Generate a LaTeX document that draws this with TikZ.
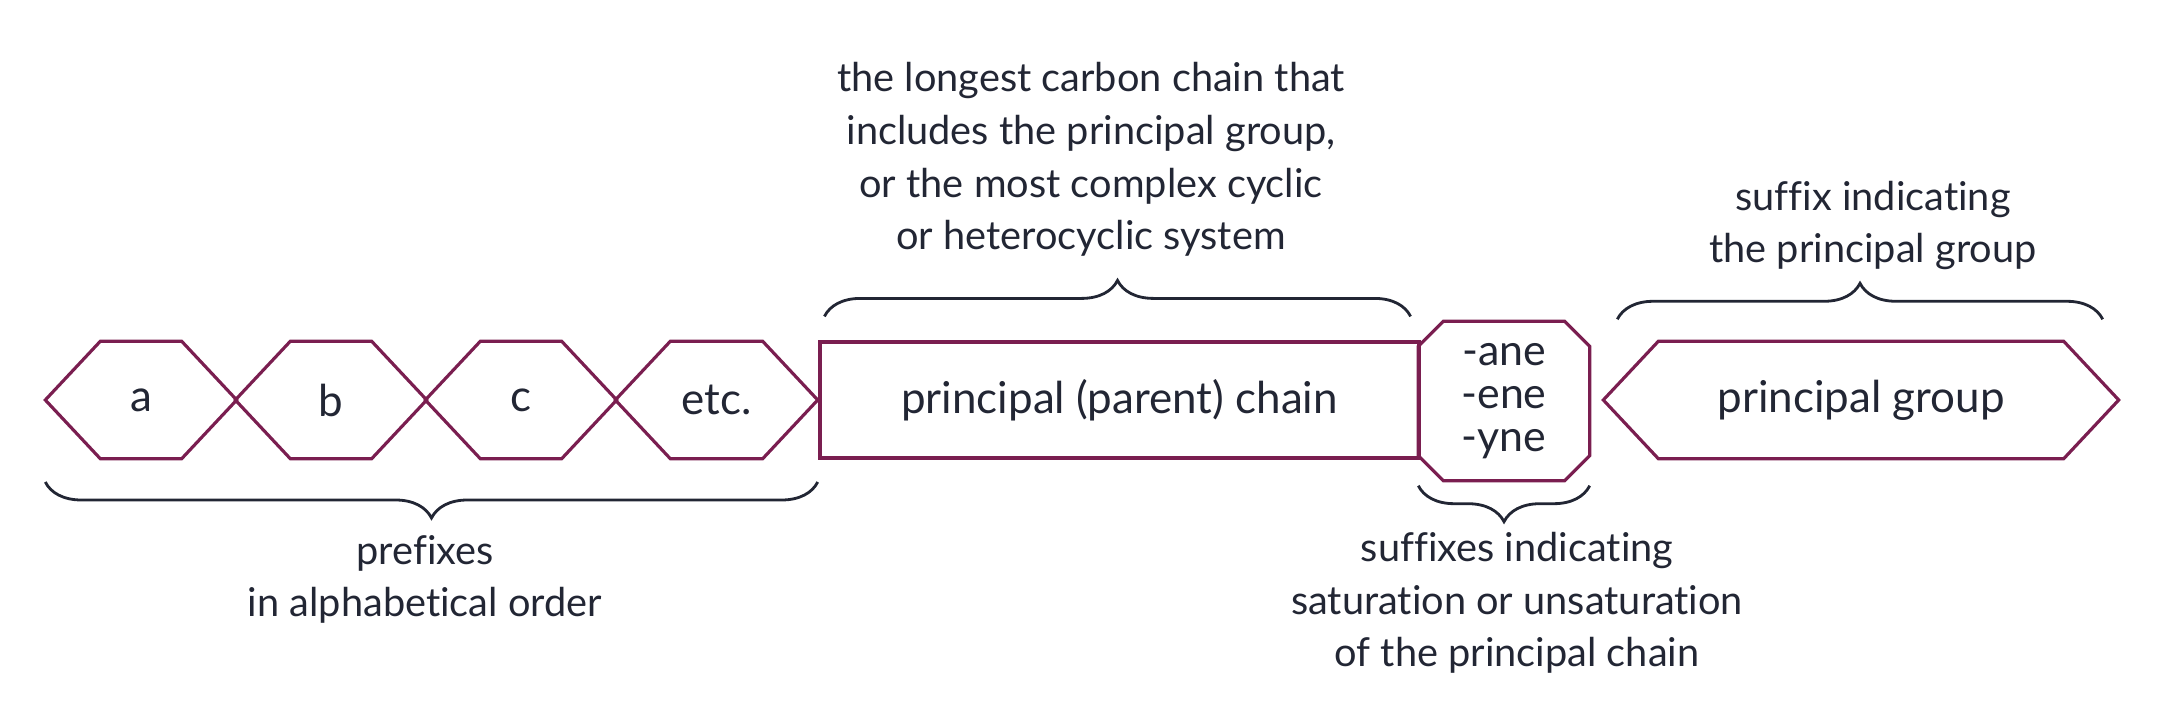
\documentclass[tikz,border=0pt]{standalone}
\usepackage{fontspec}
\setmainfont{Lato}[Ligatures=NoCommon]
\usetikzlibrary{decorations.pathreplacing}

\definecolor{plum}{RGB}{122,30,80}
\definecolor{ink}{RGB}{34,38,52}

\tikzset{
  frame/.style={draw=plum, line width=0.9pt},
  cell/.style={inner sep=0pt, minimum height=11.6mm, text=ink, font=\fontsize{12.5}{14}\selectfont},
  note/.style={align=center, text=ink, font=\fontsize{11.3}{15}\selectfont},
  curly/.style={decorate, decoration={brace, amplitude=3.6mm}, draw=ink, line width=0.8pt}
}

% outline of a pointed box round a node
\newcommand{\hexout}[1]{%
  \draw[frame] (#1.west) -- ([xshift=5.5mm]#1.north west) -- ([xshift=-5.5mm]#1.north east)
    -- (#1.east) -- ([xshift=-5.5mm]#1.south east) -- ([xshift=5.5mm]#1.south west) -- cycle;}

\begin{document}
\begin{tikzpicture}
    \useasboundingbox (0,0) rectangle (21.69,7.25);

    \node[cell, minimum width=19mm] (a) at (1.41, 3.25) {a};
    \node[cell, minimum width=19mm] (b) at (3.31, 3.25) {b};
    \node[cell, minimum width=19mm] (c) at (5.21, 3.25) {c};
    \node[cell, minimum width=20.1mm] (etc) at (7.165, 3.25) {etc.};
    \node[cell, frame, minimum width=59.9mm] (chain) at (11.195, 3.25) {principal (parent) chain};
    \node[cell, minimum width=17mm, minimum height=15.8mm, align=center,
          font=\fontsize{12.2}{12.2}\selectfont] (sat) at (15.04, 3.24) {-ane\\-ene\\-yne};
    \node[cell, minimum width=51.4mm] (group) at (18.61, 3.25) {principal group};

    \foreach \n in {a, b, c, etc, group} {\hexout{\n}}
    \draw[frame] ([yshift=-2.5mm]sat.north west) -- ([xshift=2.5mm]sat.north west)
      -- ([xshift=-2.5mm]sat.north east) -- ([yshift=-2.5mm]sat.north east)
      -- ([yshift=2.5mm]sat.south east) -- ([xshift=-2.5mm]sat.south east)
      -- ([xshift=2.5mm]sat.south west) -- ([yshift=2.5mm]sat.south west) -- cycle;

    \node[note, anchor=base] (longest) at (10.91, 4.75) {the longest carbon chain that\\includes the principal group,\\or the most complex cyclic\\or heterocyclic system};
    \node[note, anchor=base] (suffix) at (18.73, 4.62) {suffix indicating\\the principal group};
    \node[note, anchor=base] (prefixes) at (4.25, 1.08) {prefixes\\in alphabetical order};
    \node[note, anchor=base] (suffixes) at (15.17, 0.58) {suffixes indicating\\saturation or unsaturation\\of the principal chain};

    \draw[curly] ([yshift=-8.2mm]etc.east) to ([yshift=-8.2mm]a.west);
    \draw[curly] ([xshift=0.6mm, yshift=2.4mm]chain.north west) to ([xshift=-1mm, yshift=2.4mm]chain.north east);
    \draw[curly] ([yshift=-0.5mm]sat.south east) to ([yshift=-0.5mm]sat.south west);
    \draw[curly] ([xshift=1.4mm, yshift=2.2mm]group.north west) to ([xshift=-1.6mm, yshift=2.2mm]group.north east);

\end{tikzpicture}
\end{document}
